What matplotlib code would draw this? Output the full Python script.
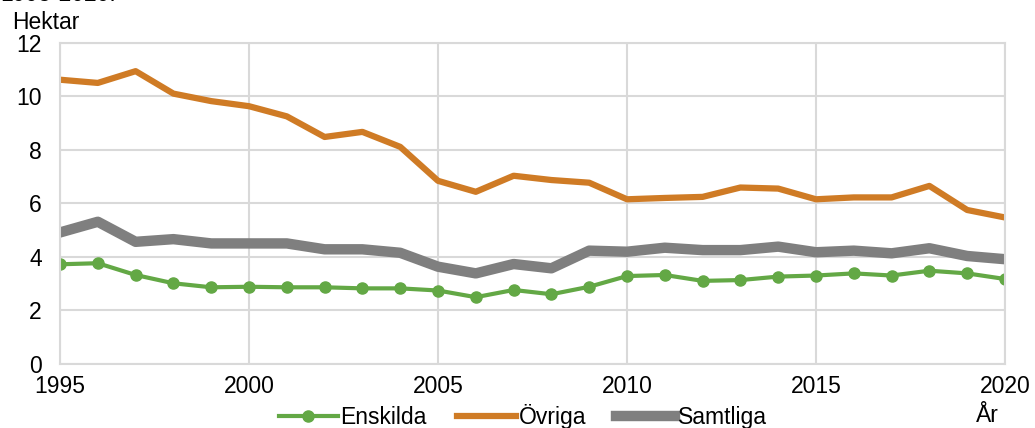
import numpy as np
import matplotlib
matplotlib.use('Agg')
import matplotlib.pyplot as plt

years = np.arange(1995, 2021)
enskilda = [3.72, 3.76, 3.32, 3.01, 2.86, 2.88, 2.86, 2.86, 2.82, 2.82,
            2.74, 2.49, 2.76, 2.60, 2.88, 3.28, 3.32, 3.10, 3.13, 3.26,
            3.30, 3.38, 3.30, 3.48, 3.38, 3.17]
ovriga = [10.62, 10.50, 10.94, 10.10, 9.82, 9.63, 9.25, 8.48, 8.67, 8.11,
          6.84, 6.43, 7.03, 6.87, 6.77, 6.15, 6.20, 6.24, 6.59, 6.55,
          6.15, 6.22, 6.22, 6.65, 5.75, 5.47]
samtliga = [4.91, 5.31, 4.56, 4.66, 4.50, 4.50, 4.50, 4.28, 4.28, 4.15,
            3.63, 3.38, 3.73, 3.57, 4.23, 4.19, 4.34, 4.25, 4.25, 4.38,
            4.17, 4.23, 4.13, 4.32, 4.03, 3.91]

plt.rcParams['font.family'] = ['Liberation Sans', 'DejaVu Sans']

fig = plt.figure(figsize=(10.35, 4.28), dpi=100)
ax = fig.add_axes([0.058, 0.15, 0.913, 0.75])

ax.plot(years, enskilda, color='#63a845', lw=3, marker='o', ms=8, label='Enskilda')
ax.plot(years, ovriga, color='#cf7b25', lw=4.5, label='Övriga')
ax.plot(years, samtliga, color='#7f7f7f', lw=7.5, label='Samtliga')

ax.set_xlim(1995, 2020)
ax.set_ylim(0, 12)
ax.set_xticks(np.arange(1995, 2021, 5))
ax.set_yticks(np.arange(0, 13, 2))
ax.grid(True, color='#d9d9d9', lw=1.5)
ax.set_axisbelow(True)
for s in ax.spines.values():
    s.set_color('#d9d9d9')
    s.set_linewidth(1.5)
ax.tick_params(length=0, labelsize=16.5, colors='black')
ax.tick_params(axis='x', pad=8)
ax.tick_params(axis='y', pad=13)

fig.text(0.012, 0.932, 'Hektar', fontsize=16.5)
# title line is cut off at the top in the original too
fig.text(0.0, 0.9975, '1995-2020.', fontsize=16.5, va='baseline')
fig.text(0.943, 0.013, 'År', fontsize=16.5)

fig.legend(loc='lower center', bbox_to_anchor=(0.505, -0.05), ncol=3, frameon=False,
           fontsize=16.5, handlelength=2.6, handletextpad=0.1, columnspacing=1.3)

fig.savefig('out.png', dpi=100)
